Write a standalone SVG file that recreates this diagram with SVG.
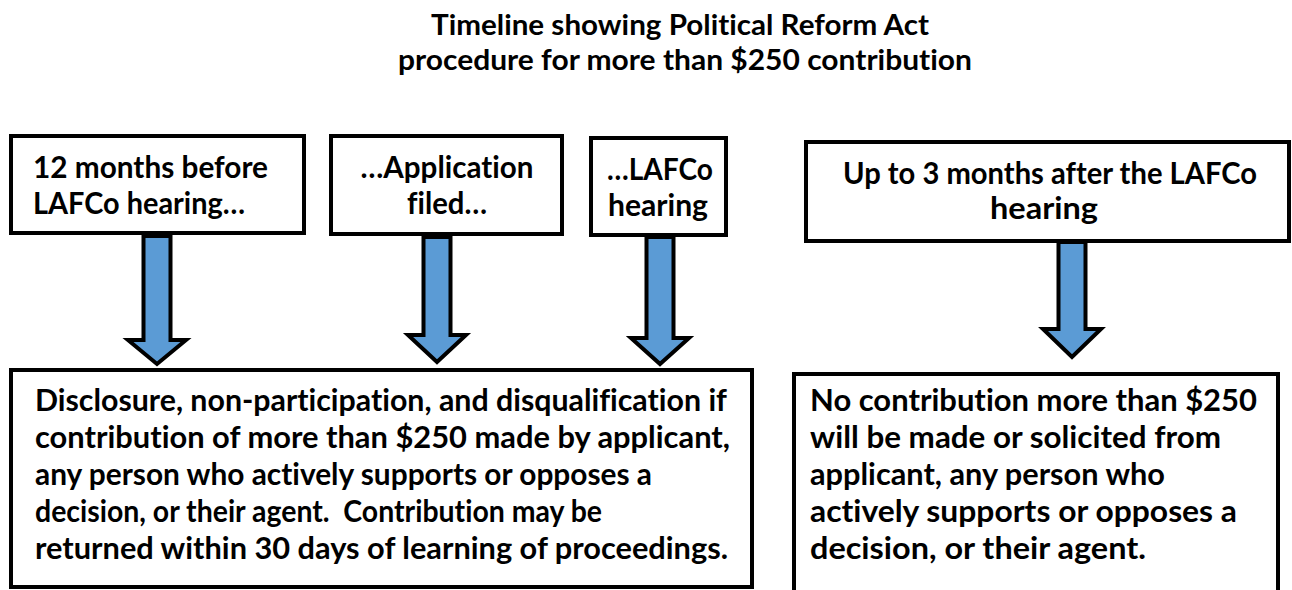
<svg xmlns="http://www.w3.org/2000/svg" width="1292" height="590" viewBox="0 0 1292 590">
<style>
  .box { fill: #ffffff; stroke: #000000; stroke-width: 4; }
  .arrow { fill: #5B9BD5; stroke: #000000; stroke-width: 4; stroke-linejoin: miter; stroke-miterlimit: 10; }
  text { font-family: Lato, "Liberation Sans", sans-serif; font-weight: bold; font-size: 31px; fill: #000000; font-variant-ligatures: none; white-space: pre; }
  .t { font-size: 28px; }
  .c { text-anchor: middle; }
</style>
<rect width="1292" height="590" fill="#ffffff"/>
<g id="title">
  <text class="c t" x="680" y="35" textLength="498" lengthAdjust="spacingAndGlyphs">Timeline showing Political Reform Act</text>
  <text class="c t" x="685" y="70" textLength="574" lengthAdjust="spacingAndGlyphs">procedure for more than $250 contribution</text>
</g>
<g id="connectors">
  <path class="arrow" d="M143.5,236 L170.5,236 L170.5,340 L186,340 L157,364 L128,340 L143.5,340 Z"/>
  <path class="arrow" d="M423.5,237 L450.5,237 L450.5,335 L466,335 L437,362 L408,335 L423.5,335 Z"/>
  <path class="arrow" d="M646.5,237 L673.5,237 L673.5,338 L689,338 L660,364 L631,338 L646.5,338 Z"/>
  <path class="arrow" d="M1058.5,242 L1085.5,242 L1085.5,329 L1101,329 L1072,357 L1043,329 L1058.5,329 Z"/>
</g>
<g id="node-12months">
  <rect class="box" x="11" y="136" width="293" height="97"/>
  <text x="33" y="178" textLength="235" lengthAdjust="spacingAndGlyphs">12 months before</text>
  <text x="33" y="214" textLength="212" lengthAdjust="spacingAndGlyphs">LAFCo hearing…</text>
</g>
<g id="node-application">
  <rect class="box" x="331" y="136" width="231" height="98"/>
  <text class="c" x="447" y="178" textLength="173" lengthAdjust="spacingAndGlyphs">…Application</text>
  <text class="c" x="447" y="214" textLength="80" lengthAdjust="spacingAndGlyphs">filed…</text>
</g>
<g id="node-hearing">
  <rect class="box" x="591" y="138" width="135" height="97"/>
  <text class="c" x="660" y="180" textLength="106" lengthAdjust="spacingAndGlyphs">…LAFCo</text>
  <text class="c" x="658" y="216" textLength="100" lengthAdjust="spacingAndGlyphs">hearing</text>
</g>
<g id="node-after">
  <rect class="box" x="806" y="142" width="483" height="99"/>
  <text class="c" x="1050" y="184" textLength="414" lengthAdjust="spacingAndGlyphs">Up to 3 months after the LAFCo</text>
  <text class="c" x="1044" y="219" textLength="108" lengthAdjust="spacingAndGlyphs">hearing</text>
</g>
<g id="node-disclosure">
  <rect class="box" x="11" y="370" width="741" height="217"/>
  <text x="35" y="411" textLength="692" lengthAdjust="spacingAndGlyphs">Disclosure, non-participation, and disqualification if</text>
  <text x="35" y="448" textLength="695" lengthAdjust="spacingAndGlyphs">contribution of more than $250 made by applicant,</text>
  <text x="35" y="485" textLength="617" lengthAdjust="spacingAndGlyphs">any person who actively supports or opposes a</text>
  <text x="35" y="522" textLength="567" lengthAdjust="spacingAndGlyphs">decision, or their agent.  Contribution may be</text>
  <text x="35" y="559" textLength="693" lengthAdjust="spacingAndGlyphs">returned within 30 days of learning of proceedings.</text>
</g>
<g id="node-nocontribution">
  <path class="box" d="M794,592 L794,374 L1278,374 L1278,592"/>
  <text x="810" y="411" textLength="447" lengthAdjust="spacingAndGlyphs">No contribution more than $250</text>
  <text x="810" y="448" textLength="411" lengthAdjust="spacingAndGlyphs">will be made or solicited from</text>
  <text x="810" y="485" textLength="355" lengthAdjust="spacingAndGlyphs">applicant, any person who</text>
  <text x="810" y="522" textLength="427" lengthAdjust="spacingAndGlyphs">actively supports or opposes a</text>
  <text x="810" y="559" textLength="336" lengthAdjust="spacingAndGlyphs">decision, or their agent.</text>
</g>
</svg>
